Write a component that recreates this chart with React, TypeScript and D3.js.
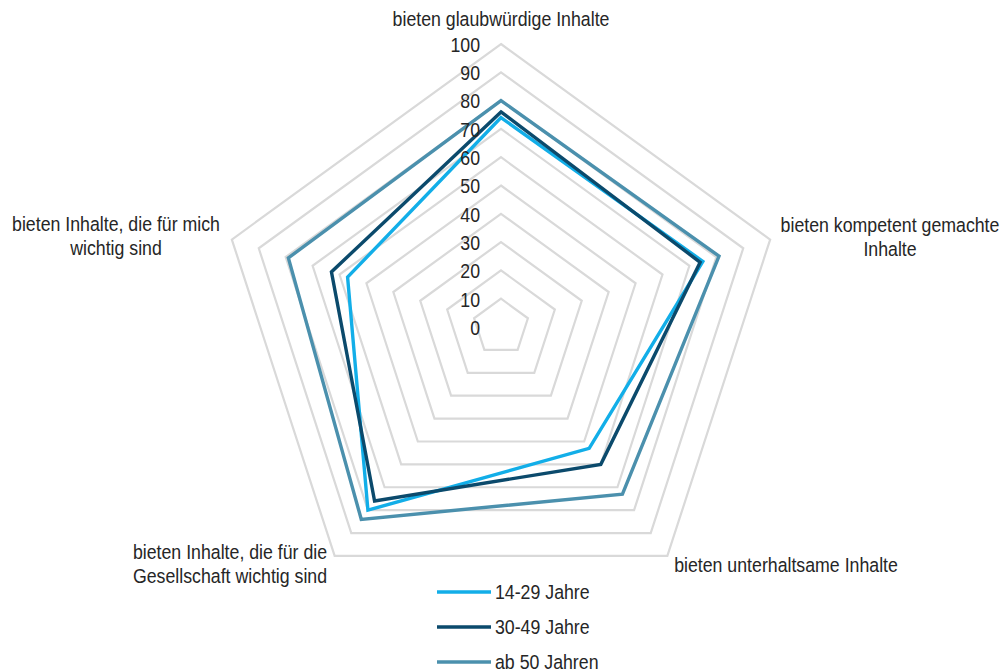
import React from "react";
import * as d3 from "d3";

const axes = [
  ["bieten glaubwürdige Inhalte"],
  ["bieten kompetent gemachte", "Inhalte"],
  ["bieten unterhaltsame Inhalte"],
  ["bieten Inhalte, die für die", "Gesellschaft wichtig sind"],
  ["bieten Inhalte, die für mich", "wichtig sind"],
];
const seriesNames = ["14-29 Jahre", "30-49 Jahre", "ab 50 Jahren"];
const values14_29 = [74, 75, 53, 80, 57];
const values30_49 = [76, 74, 60, 76, 63];
const valuesAb50 = [80, 81, 73, 84, 79];
const ticks = [0, 10, 20, 30, 40, 50, 60, 70, 80, 90, 100];
const colors = ["#12aee8", "#0b4a6c", "#4b90ad"];

const W = 1005;
const H = 670;
const cx = 501;
const cy = 327;
const R = 283;
const FONT = "'Liberation Sans', Arial, sans-serif";
const FS = 19.5;
const SX = 0.91;

function T({ x, y, anchor, children }: { x: number; y: number; anchor: string; children: React.ReactNode }) {
  return (
    <text
      transform={`translate(${x},${y}) scale(${SX},1)`}
      textAnchor={anchor as any}
      dy="0.35em"
    >
      {children}
    </text>
  );
}

export default function App() {
  const r = d3.scaleLinear().domain([0, 100]).range([0, R]);
  const angle = (i: number) => (i * 2 * Math.PI) / axes.length;
  const pt = (i: number, v: number): [number, number] => [
    cx + r(v) * Math.sin(angle(i)),
    cy - r(v) * Math.cos(angle(i)),
  ];
  const closed = d3.line().curve(d3.curveLinearClosed);
  const allSeries = [values14_29, values30_49, valuesAb50];

  const labelPos = [
    { x: 501, y: 19, anchor: "middle" },
    { x: 890, y: 225, anchor: "middle" },
    { x: 786, y: 565, anchor: "middle" },
    { x: 230, y: 552, anchor: "middle" },
    { x: 116, y: 224, anchor: "middle" },
  ];

  return (
    <svg width={W} height={H} style={{ position: "absolute", left: 0, top: 0 }}>
      <rect width={W} height={H} fill="#fff" />
      <g>
        {ticks.slice(1).map((t) => (
          <path
            key={t}
            d={closed(axes.map((_, i) => pt(i, t))) || ""}
            fill="none"
            stroke="#d9d9d9"
            strokeWidth={2.2}
          />
        ))}
      </g>
      <g>
        {allSeries.map((vals, s) => (
          <path
            key={s}
            d={closed(vals.map((v, i) => pt(i, v))) || ""}
            fill="none"
            stroke={colors[s]}
            strokeWidth={3.4}
            strokeLinejoin="miter"
          />
        ))}
      </g>
      <g fontFamily={FONT} fontSize={FS} fill="#262626">
        {ticks.map((t) => (
          <T key={t} x={480} y={cy - r(t) + 1} anchor="end">
            {t}
          </T>
        ))}
        {axes.map((lines, i) =>
          lines.map((ln, j) => (
            <T key={`${i}-${j}`} x={labelPos[i].x} y={labelPos[i].y + j * 24} anchor={labelPos[i].anchor}>
              {ln}
            </T>
          ))
        )}
        {seriesNames.map((name, s) => (
          <g key={name}>
            <line
              x1={437}
              x2={491}
              y1={592 + s * 35}
              y2={592 + s * 35}
              stroke={colors[s]}
              strokeWidth={3.6}
            />
            <T x={495} y={592 + s * 35} anchor="start">
              {name}
            </T>
          </g>
        ))}
      </g>
    </svg>
  );
}
